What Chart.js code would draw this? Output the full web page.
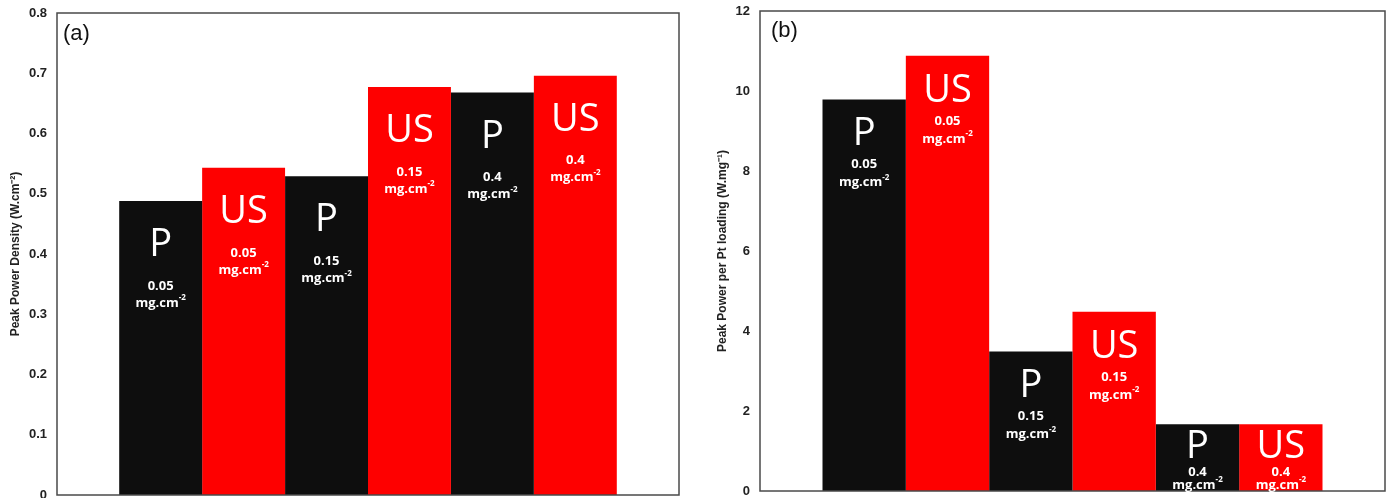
<!DOCTYPE html>
<html>
<head>
<meta charset="utf-8">
<script src="https://cdn.jsdelivr.net/npm/chart.js@4.4.1/dist/chart.umd.min.js"></script>
<style>
  html, body { margin: 0; padding: 0; background: #fff; overflow: hidden; }
  #wrap { position: relative; width: 1391px; height: 498px; overflow: hidden; }
  #chartA { position: absolute; left: 0; top: 0; }
  #chartB { position: absolute; left: 695px; top: 0; }
</style>
</head>
<body>
<div id="wrap">
  <canvas id="chartA" width="695" height="505"></canvas>
  <canvas id="chartB" width="696" height="505"></canvas>
</div>
<script>
// --- data ---
const groupLabels = ['P', 'US', 'P', 'US', 'P', 'US'];
const loadings = ['0.05', '0.05', '0.15', '0.15', '0.4', '0.4'];
const densityValues = [0.488, 0.543, 0.529, 0.677, 0.668, 0.696];   // W.cm-2
const specificValues = [9.79, 10.88, 3.49, 4.48, 1.67, 1.67];       // W.mg-1
const densityTicks = [0, 0.1, 0.2, 0.3, 0.4, 0.5, 0.6, 0.7, 0.8];
const specificTicks = [0, 2, 4, 6, 8, 10, 12];

const BLACK = '#0e0e0e';
const RED = '#fe0000';

// frame, panel letter and the white text inside each bar
const barTextPlugin = {
  id: 'barText',
  afterDatasetsDraw(chart, args, opts) {
    const ctx = chart.ctx;
    const a = chart.chartArea;
    ctx.save();

    ctx.strokeStyle = '#4a4a4a';
    ctx.lineWidth = 1.5;
    ctx.strokeRect(a.left, a.top, a.right - a.left, a.bottom - a.top);

    ctx.fillStyle = '#111';
    ctx.font = '22px "Liberation Sans", Arial, sans-serif';
    ctx.textAlign = 'left';
    ctx.textBaseline = 'alphabetic';
    ctx.fillText(opts.panel, a.left + opts.panelDx, a.top + opts.panelDy);

    chart.data.datasets.forEach((ds, i) => {
      const bar = chart.getDatasetMeta(i).data[0];
      const h = bar.base - bar.y;
      // squeeze the text block in short bars
      const k = Math.min(1, (h - 6) / opts.unitY);
      const cx = bar.x;

      ctx.fillStyle = '#fff';
      ctx.textAlign = 'center';
      ctx.textBaseline = 'alphabetic';
      ctx.font = '38px "Open Sans", sans-serif';
      ctx.fillText(ds.label, cx, bar.y + opts.letterY * k);

      ctx.textBaseline = 'middle';
      ctx.font = 'bold 13px "Open Sans", sans-serif';
      ctx.fillText(loadings[i], cx, bar.y + opts.numY * k);

      // mg.cm-2 with a raised -2
      const yU = bar.y + opts.unitY * k;
      const main = 'mg.cm';
      const sup = '-2';
      ctx.font = 'bold 13px "Open Sans", sans-serif';
      const w1 = ctx.measureText(main).width;
      ctx.font = 'bold 8px "Open Sans", sans-serif';
      const w2 = ctx.measureText(sup).width;
      const x0 = cx - (w1 + w2) / 2;
      ctx.textAlign = 'left';
      ctx.font = 'bold 13px "Open Sans", sans-serif';
      ctx.fillText(main, x0, yU);
      ctx.font = 'bold 8px "Open Sans", sans-serif';
      ctx.fillText(sup, x0 + w1, yU - 5);
    });
    ctx.restore();
  }
};

function makeChart(id, values, ticks, max, title, axisWidth, titlePad, pad, textOpts) {
  const datasets = groupLabels.map((g, i) => ({
    label: g,
    data: [values[i]],
    backgroundColor: g === 'P' ? BLACK : RED,
    borderWidth: 0,
    barPercentage: 1,
    categoryPercentage: 0.8
  }));

  return new Chart(document.getElementById(id), {
    type: 'bar',
    data: { labels: [''], datasets: datasets },
    options: {
      responsive: false,
      animation: false,
      devicePixelRatio: 1,
      layout: { padding: pad },
      plugins: {
        legend: { display: false },
        tooltip: { enabled: false },
        barText: textOpts
      },
      scales: {
        x: { display: false },
        y: {
          min: 0,
          max: max,
          afterBuildTicks: s => { s.ticks = ticks.map(v => ({ value: v })); },
          afterFit: s => { s.width = axisWidth; },
          // invisible tick marks give the 10px gap without extra top/bottom padding
          grid: { display: false, drawTicks: true, tickLength: 10 },
          border: { display: false },
          ticks: {
            padding: 0,
            color: '#222',
            font: { family: '"Liberation Sans", Arial, sans-serif', size: 13, weight: 'bold' }
          },
          title: {
            display: true,
            text: title,
            color: '#222',
            padding: { top: titlePad, bottom: 0 },
            font: { family: '"Liberation Sans", Arial, sans-serif', size: 12, weight: 'bold' }
          }
        }
      }
    },
    plugins: [barTextPlugin]
  });
}

makeChart('chartA', densityValues, densityTicks, 0.8,
  'Peak Power Density (W.cm\u207B\u00B2)', 57, 8,
  { top: 13, bottom: 10, left: 0, right: 16 },
  { panel: '(a)', panelDx: 6, panelDy: 27, letterY: 55, numY: 85, unitY: 102 });

makeChart('chartB', specificValues, specificTicks, 12,
  'Peak Power per Pt loading (W.mg\u207B\u00B9)', 65, 20,
  { top: 11, bottom: 14, left: 0, right: 6 },
  { panel: '(b)', panelDx: 11, panelDy: 26, letterY: 46, numY: 65, unitY: 83 });
</script>
</body>
</html>
